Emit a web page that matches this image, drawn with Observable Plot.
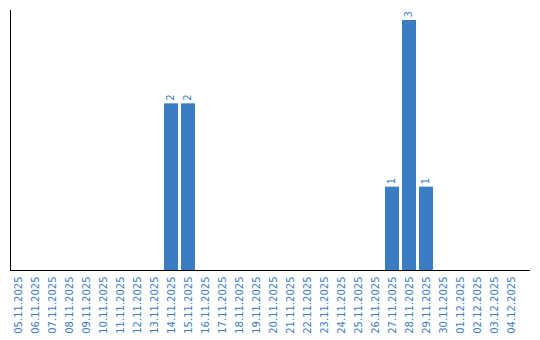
<!DOCTYPE html>
<html>
<head>
<meta charset="utf-8">
<script src="https://cdn.jsdelivr.net/npm/d3@7"></script>
<script src="https://cdn.jsdelivr.net/npm/@observablehq/plot@0.6"></script>
<style>
  html, body { margin: 0; padding: 0; background: #fff; }
</style>
</head>
<body>
<div id="chart"></div>
<script>
const dates = [
  "05.11.2025","06.11.2025","07.11.2025","08.11.2025","09.11.2025","10.11.2025",
  "11.11.2025","12.11.2025","13.11.2025","14.11.2025","15.11.2025","16.11.2025",
  "17.11.2025","18.11.2025","19.11.2025","20.11.2025","21.11.2025","22.11.2025",
  "23.11.2025","24.11.2025","25.11.2025","26.11.2025","27.11.2025","28.11.2025",
  "29.11.2025","30.11.2025","01.12.2025","02.12.2025","03.12.2025","04.12.2025"
];
const counts = [0,0,0,0,0,0,0,0,0,2,2,0,0,0,0,0,0,0,0,0,0,0,1,3,1,0,0,0,0,0];

const data = dates.map((d, i) => ({date: d, count: counts[i]}));
const nonZero = data.filter(d => d.count > 0);
const blue = "#3b7dc2";

const chart = Plot.plot({
  width: 540,
  height: 340,
  marginLeft: 10,
  marginRight: 10,
  marginTop: 10,
  marginBottom: 70,
  style: {fontFamily: "'DejaVu Sans', sans-serif", fontSize: "10px", background: "#fff"},
  x: {domain: dates, range: [10, 520], paddingInner: 0.18, paddingOuter: 0.06, align: 0.3, label: null},
  y: {domain: [0, 3.12], label: null, axis: null},
  marks: [
    Plot.barY(nonZero, {x: "date", y: "count", fill: blue}),
    Plot.text(nonZero, {x: "date", y: "count", text: d => String(d.count), rotate: -90, textAnchor: "start", lineAnchor: "middle", dx: -1, dy: -3, fill: blue, fontSize: 10, fontFamily: "DejaVu Sans"}),
    Plot.axisX({tickSize: 0, tickRotate: -90, tickPadding: 6, color: blue, label: null, fontSize: 10, fontFamily: "DejaVu Sans"}),
    Plot.ruleY([0], {stroke: "#000", strokeWidth: 1}),
    Plot.frame({anchor: "left", stroke: "#000", strokeWidth: 1})
  ]
});
document.getElementById("chart").appendChild(chart);
</script>
</body>
</html>
